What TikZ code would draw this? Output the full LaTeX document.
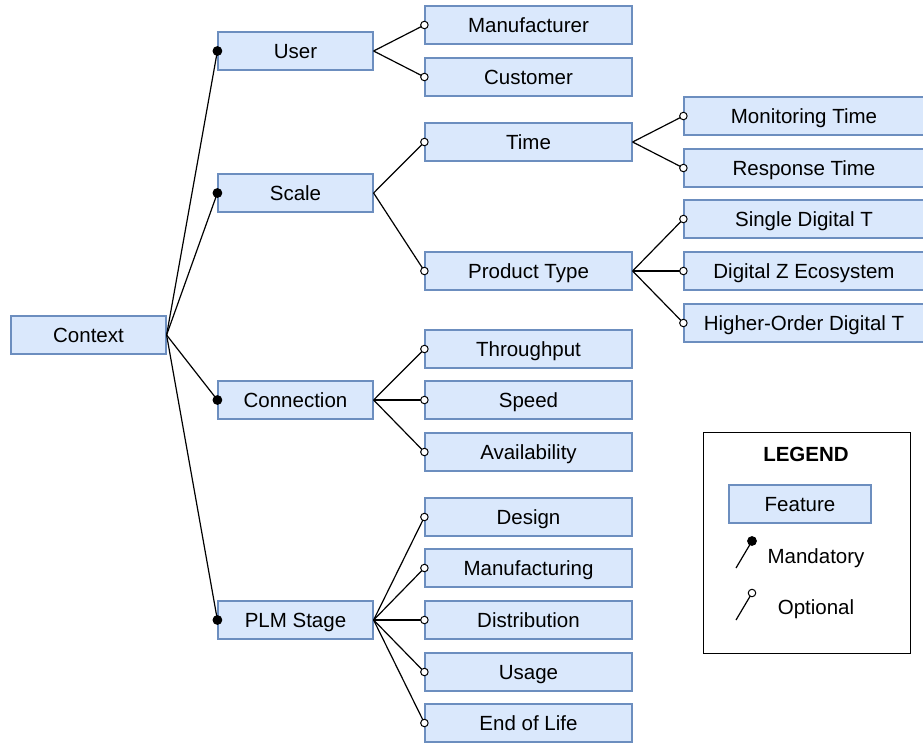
\documentclass[tikz,border=0pt]{standalone}
\usepackage{fontspec}
\setmainfont{Liberation Sans}
\begin{document}
\begin{tikzpicture}[x=1pt,y=-1pt,
  txt/.style={font=\fontsize{20.5}{24}\selectfont, text height=14.7pt, text depth=0pt},
  feat/.style={txt, draw={rgb,255:red,108;green,142;blue,191}, fill={rgb,255:red,218;green,232;blue,252}, line width=1.2pt, minimum height=38pt, inner sep=0pt},
  l1/.style={feat, minimum width=155pt},
  l2/.style={feat, minimum width=207pt},
  l3/.style={feat, minimum width=240pt},
  conn/.style={line width=1.2pt},
  mand/.style={circle, fill=black, draw=black, inner sep=0pt, minimum size=8.5pt},
  opt/.style={circle, fill=white, draw=black, line width=1pt, inner sep=0pt, minimum size=7.5pt},
  lbl/.style={txt}
]
\useasboundingbox (0,0) rectangle (923,744);
% level 0
\node[l1] (ctx) at (88.5,335) {Context};
% level 1
\node[l1] (user) at (295.5,51) {User};
\node[l1] (scale) at (295.5,193) {Scale};
\node[l1] (conn) at (295.5,400) {Connection};
\node[l1] (plm) at (295.5,620) {PLM Stage};
% level 2
\node[l2] (manu) at (528.5,25) {Manufacturer};
\node[l2] (cust) at (528.5,77) {Customer};
\node[l2] (time) at (528.5,142) {Time};
\node[l2] (ptype) at (528.5,271) {Product Type};
\node[l2] (thr) at (528.5,349) {Throughput};
\node[l2] (speed) at (528.5,400) {Speed};
\node[l2] (avail) at (528.5,452) {Availability};
\node[l2] (design) at (528.5,517) {Design};
\node[l2] (mfg) at (528.5,568) {Manufacturing};
\node[l2] (dist) at (528.5,620) {Distribution};
\node[l2] (usage) at (528.5,672) {Usage};
\node[l2] (eol) at (528.5,723) {End of Life};
% level 3
\node[l3] (mon) at (804,116) {Monitoring Time};
\node[l3] (resp) at (804,168) {Response Time};
\node[l3] (single) at (804,219) {Single Digital T};
\node[l3] (eco) at (804,271) {Digital Z Ecosystem};
\node[l3] (higher) at (804,323) {Higher-Order Digital T};
% connectors: mandatory
\foreach \c in {user,scale,conn,plm}
  \draw[conn] (ctx.east) -- (\c.west) node[mand]{};
% optional
\foreach \p/\c in {user/manu,user/cust,scale/time,scale/ptype,conn/thr,conn/speed,conn/avail,plm/design,plm/mfg,plm/dist,plm/usage,plm/eol,time/mon,time/resp,ptype/single,ptype/eco,ptype/higher}
  \draw[conn] (\p.east) -- (\c.west) node[opt]{};
% legend
\node[draw=black, line width=1pt, minimum width=207pt, minimum height=221pt, inner sep=0pt] (legend) at (806.5,542.5) {};
\node[txt, font=\fontsize{20.5}{24}\selectfont\bfseries] (legtitle) at (806,454) {LEGEND};
\node[feat, minimum width=142pt] (legfeat) at (800,504) {Feature};
\coordinate (m0) at (736,568);
\coordinate (m1) at (752,541);
\draw[conn] (m0) -- (m1) node[mand]{};
\node[lbl] (mtxt) at (816,556) {Mandatory};
\coordinate (o0) at (736,620);
\coordinate (o1) at (752,593);
\draw[conn] (o0) -- (o1) node[opt]{};
\node[lbl] (otxt) at (816,607) {Optional};
\end{tikzpicture}
\end{document}
